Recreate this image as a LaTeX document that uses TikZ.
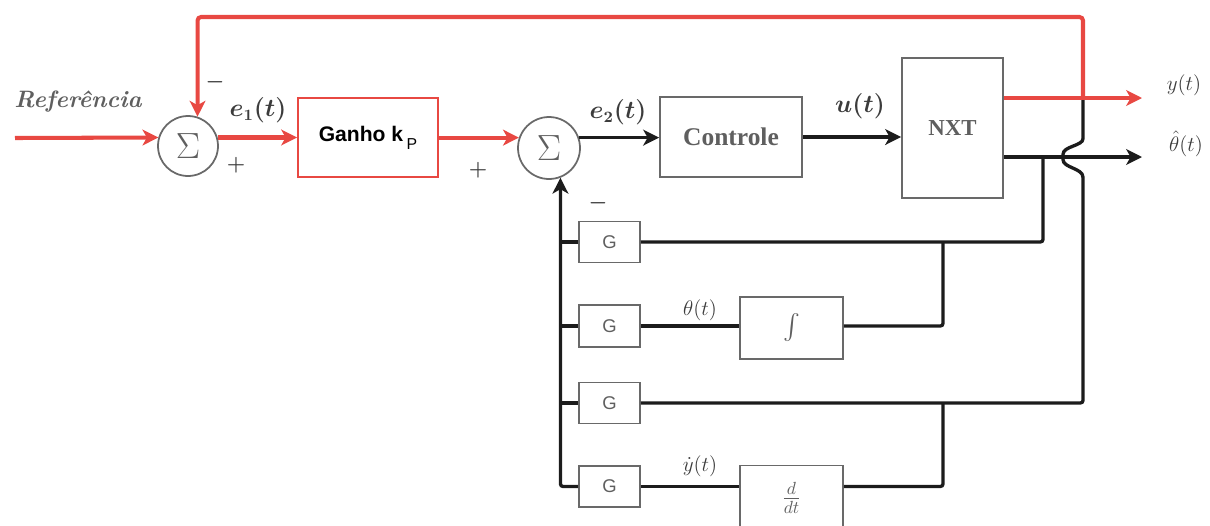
\documentclass[tikz,border=0pt]{standalone}
\usepackage{amsmath}
\usepackage{fontspec}
\newfontfamily\serifb{Liberation Serif}
\newfontfamily\sansb{Liberation Sans}
\usetikzlibrary{arrows.meta}
\definecolor{myred}{RGB}{232,72,66}
\definecolor{boxgray}{RGB}{105,105,105}
\definecolor{txtgray}{RGB}{95,95,95}
\definecolor{lblgray}{RGB}{60,60,60}
\definecolor{lineblk}{RGB}{28,28,28}
\begin{document}
\begin{tikzpicture}[x=0.02cm,y=-0.02cm,
  tipk/.tip={Stealth[length=9pt,width=9pt,inset=2.5pt]},
  blk/.style={draw=lineblk, line width=1.9pt, rounded corners=1.5pt},
  rd/.style={draw=myred, line width=2.3pt, rounded corners=2pt},
  gbox/.style={draw=boxgray, line width=1.1pt, fill=white, inner sep=0pt, text=txtgray},
  rbox/.style={draw=myred, line width=1.1pt, fill=white, inner sep=0pt},
  sumc/.style={circle, draw=boxgray, line width=1pt, fill=white, inner sep=0pt, text=txtgray, font=\fontsize{20}{22}\selectfont},
  lbl/.style={text=lblgray, font=\fontsize{13}{15}\selectfont},
  lblb/.style={text=lblgray, font=\fontsize{13.5}{15}\selectfont\boldmath},
  sgn/.style={text=lblgray, font=\fontsize{13}{15}\selectfont\boldmath}
]
\useasboundingbox (0,0) rectangle (1210,525);

% nodes
\node[sumc, minimum size=1.2cm] (s1) at (188,146) {$\Sigma$};
\node[sumc, minimum size=1.24cm] (s2) at (549,148) {$\Sigma$};
\node[rbox, minimum width=2.8cm, minimum height=1.58cm] (gain) at (368,137.5)
  {\sansb\bfseries\fontsize{12}{14}\selectfont Ganho k\,\raisebox{-4.5pt}{\mdseries\fontsize{9}{10}\selectfont P}};
\node[gbox, minimum width=2.84cm, minimum height=1.6cm] (ctrl) at (731,137)
  {\serifb\bfseries\fontsize{14.5}{16}\selectfont Controle};
\node[gbox, minimum width=2.02cm, minimum height=2.8cm] (nxt) at (952.5,128)
  {\serifb\bfseries\fontsize{13}{15}\selectfont NXT};
\node[gbox, minimum width=1.22cm, minimum height=0.82cm] (G1) at (609.5,242) {\sansb\fontsize{10.5}{12}\selectfont G};
\node[gbox, minimum width=1.22cm, minimum height=0.84cm] (G2) at (609.5,326) {\sansb\fontsize{10.5}{12}\selectfont G};
\node[gbox, minimum width=1.22cm, minimum height=0.82cm] (G3) at (609.5,403) {\sansb\fontsize{10.5}{12}\selectfont G};
\node[gbox, minimum width=1.22cm, minimum height=0.82cm] (G4) at (609.5,486.5) {\sansb\fontsize{10.5}{12}\selectfont G};
\node[gbox, minimum width=2.06cm, minimum height=1.24cm] (int) at (791.5,328)
  {\fontsize{15}{16}\selectfont$\int$};
\node[gbox, minimum width=2.06cm, minimum height=1.3cm] (ddt) at (791.5,498)
  {\fontsize{14}{15}\selectfont$\frac{d}{dt}$};

% coordinates
\coordinate (refin) at (15,138);
\coordinate (yout) at (1142,98);
\coordinate (thout) at (1142,157);
\coordinate (j1) at (1043,157);
\coordinate (j2) at (943,242);
\coordinate (j3) at (1083,98);
\coordinate (j4) at (943,403);
\coordinate (hb) at (1083,180);
\coordinate (ftop) at (s1.72 |- 0,17);

% black signal lines
\draw[blk,-{tipk}] (s2.19) -- (s2.19 -| ctrl.west);
\draw[blk,-{tipk}] (ctrl.east) -- (ctrl.east -| nxt.west);
\draw[blk,-{tipk}] (nxt.east |- thout) -- (thout);
\draw[blk,-{tipk}] (G4.west) -| (s2.-69);
\draw[blk] (G1.west) -- (G1.west -| s2.-69);
\draw[blk] (G2.west) -- (G2.west -| s2.-69);
\draw[blk] (G3.west) -- (G3.west -| s2.-69);
\draw[blk] (G1.east) -| (j1);
\draw[blk] (G2.east) -- (int.west |- G2.east);
\draw[blk] (int.east |- G2.east) -| (j2);
\draw[blk] (G4.east) -- (ddt.west |- G4.east);
\draw[blk] (ddt.east |- G4.east) -| (j4);
\draw[blk] (G3.east) -| (hb)
  .. controls (1083,168) and (1063,168) .. (1063,157)
  .. controls (1063,146) and (1083,146) .. (1083,136) -- (j3);

% red signal lines
\draw[rd,-{tipk}] (refin) -- (s1.164);
\draw[rd,-{tipk}] (s1.16) -- (s1.16 -| gain.west);
\draw[rd,-{tipk}] (gain.east |- s2.161) -- (s2.161);
\draw[rd,-{tipk}] (nxt.east |- yout) -- (yout);
\draw[rd,-{tipk}] (j3) |- (ftop) -- (s1.72);

% labels
\node[text=txtgray, font=\bfseries\itshape\fontsize{13.5}{15}\selectfont] (lref) at (78,102) {Referência};
\node[lblb] (le1) at (258,110) {$e_{1}(t)$};
\node[lblb] (le2) at (618,112) {$e_{2}(t)$};
\node[lblb] (lu) at (860,106) {$u(t)$};
\node[lbl] (ly) at (1184,85) {$y(t)$};
\node[lbl] (lth) at (1186,144) {$\hat{\theta}(t)$};
\node[lbl] (lthe) at (700,310) {$\theta(t)$};
\node[lbl] (lyd) at (700,466) {$\dot{y}(t)$};
\node[sgn] (m1) at (215,82) {$-$};
\node[sgn] (p1) at (236,165) {$+$};
\node[sgn] (p2) at (478,170) {$+$};
\node[sgn] (m2) at (598,203) {$-$};
\end{tikzpicture}
\end{document}
